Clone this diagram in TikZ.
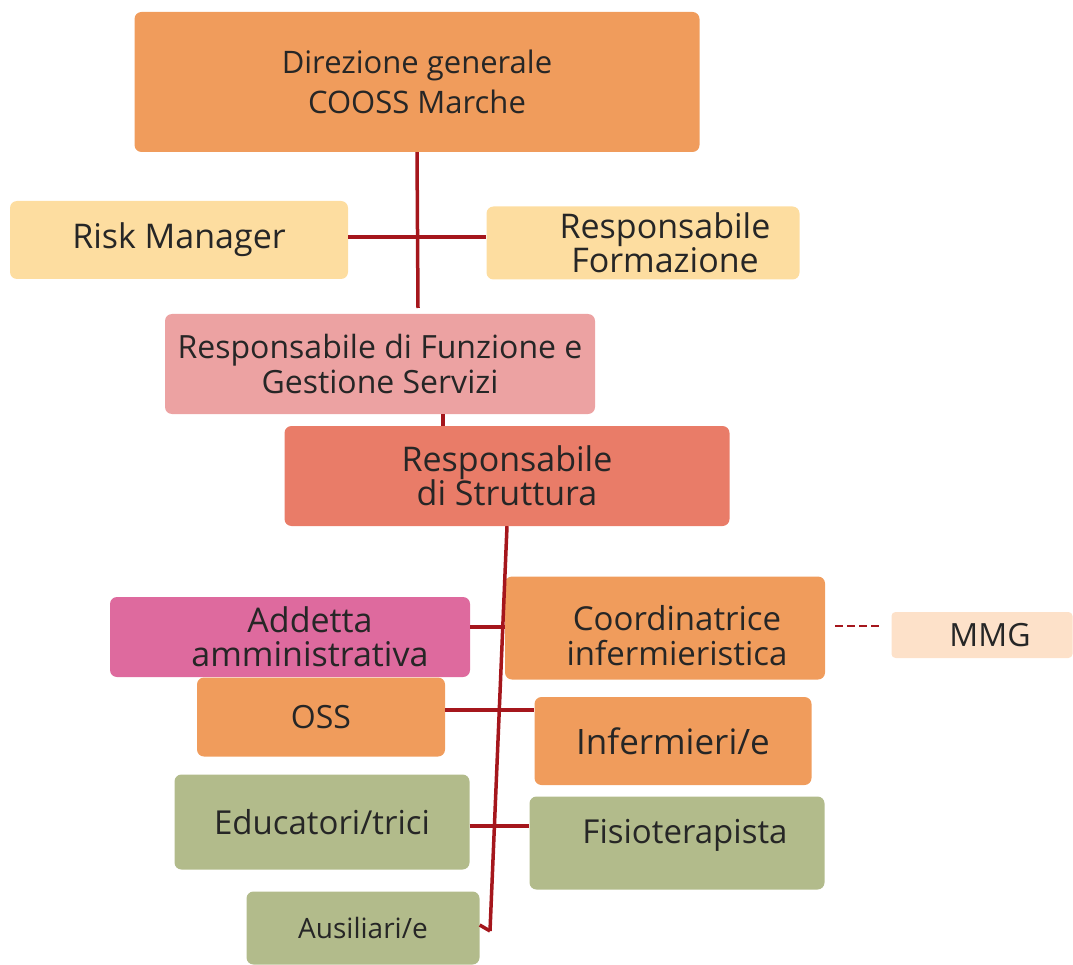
\documentclass[tikz,border=0pt]{standalone}
\usepackage{fontspec}
\setmainfont{Open Sans}
\definecolor{cOrange}{HTML}{F09C5C}
\definecolor{cYellow}{HTML}{FDDDA0}
\definecolor{cPink}{HTML}{ECA2A2}
\definecolor{cSalmon}{HTML}{E97C68}
\definecolor{cMagenta}{HTML}{DE6A9E}
\definecolor{cPeach}{HTML}{FDE1C9}
\definecolor{cGreen}{HTML}{B2BB8B}
\definecolor{cLine}{HTML}{A5161C}
\begin{document}
\begin{tikzpicture}[x=1pt,y=-1pt]
    \tikzstyle{box}=[rounded corners=7pt,inner sep=0pt,align=center,text=black!85,font=\fontsize{33}{38}\selectfont]
    \tikzstyle{orange box}=[box,fill=cOrange]
    \tikzstyle{yellow box}=[box,fill=cYellow,font=\fontsize{34}{36}\selectfont]
    \tikzstyle{green box}=[box,fill=cGreen]
    \tikzstyle{link}=[draw=cLine,line width=3.5pt]
    \useasboundingbox (0,0) rectangle (1073,965);

    % Draw the top of the chart
    \node[orange box,minimum width=565pt,minimum height=140pt,font=\fontsize{31}{40}\selectfont] (dir) at (417,82) {Direzione generale\\COOSS Marche};
    \node[yellow box,minimum width=338pt,minimum height=78pt] (risk) at (179,240) {Risk Manager};
    \node[yellow box,minimum width=313pt,minimum height=73pt,
          label={[align=center,xshift=22pt,font=\fontsize{34}{34}\selectfont,text=black!85]center:{Responsabile\\Formazione}}] (form) at (643,243) {};
    \node[box,fill=cPink,minimum width=430pt,minimum height=100pt,font=\fontsize{32}{35}\selectfont] (fun) at (380,364) {Responsabile di Funzione e\\Gestione Servizi};
    \node[box,fill=cSalmon,minimum width=445pt,minimum height=100pt,font=\fontsize{34}{34}\selectfont] (stru) at (507,476) {Responsabile\\di Struttura};

    % Draw the staff nodes
    \node[box,fill=cMagenta,minimum width=360pt,minimum height=80pt,
          label={[align=center,xshift=20pt,font=\fontsize{34}{34}\selectfont,text=black!85]center:{Addetta\\amministrativa}}] (add) at (290,637) {};
    \node[orange box,minimum width=320pt,minimum height=103pt,
          label={[align=center,xshift=12pt,yshift=-8pt,font=\fontsize{33}{35}\selectfont,text=black!85]center:{Coordinatrice\\infermieristica}}] (coord) at (665,628) {};
    \node[box,fill=cPeach,minimum width=181pt,minimum height=46pt,rounded corners=4pt,
          label={[xshift=8pt,font=\fontsize{32}{36}\selectfont,text=black!85]center:MMG}] (mmg) at (982,635) {};
    \node[orange box,minimum width=248pt,minimum height=79pt,font=\fontsize{32}{36}\selectfont] (oss) at (321,717) {OSS};
    \node[orange box,minimum width=277pt,minimum height=88pt,font=\fontsize{35}{36}\selectfont] (inf) at (673,741) {Infermieri/e};
    \node[green box,minimum width=295pt,minimum height=95pt] (edu) at (322,822) {Educatori/trici};
    \node[green box,minimum width=295pt,minimum height=93pt,
          label={[xshift=8pt,yshift=8pt,font=\fontsize{33}{36}\selectfont,text=black!85]center:Fisioterapista}] (fis) at (677,843) {};
    \node[green box,minimum width=233pt,minimum height=73pt,font=\fontsize{28}{30}\selectfont] (aus) at (363,928) {Ausiliari/e};

    % Connect the nodes
    \coordinate (top end) at (418,308);
    \coordinate (trunk end) at (490,931);
    \draw[link] (dir.south) -- (top end);
    \draw[link] ([yshift=3pt]risk.east) -- ([yshift=3pt]risk.east -| form.west);
    \draw[link] ([xshift=63pt]fun.south) -- ([xshift=63pt]fun.south |- stru.north);
    \draw[link] (stru.south) -- (trunk end);
    \draw[link] ([yshift=10pt]add.east) -- ([yshift=10pt]add.east -| coord.west);
    \draw[link] ([yshift=7pt]oss.east) -- ([yshift=7pt]oss.east -| inf.west);
    \draw[link] ([yshift=-4pt]edu.east) -- ([yshift=-4pt]edu.east -| fis.west);
    \draw[link] ([yshift=3pt]aus.east) -- (trunk end);
    \draw[link,line width=2.5pt,dash pattern=on 8pt off 4pt] ([xshift=10pt,yshift=2pt]coord.east) -- ([xshift=-10pt,yshift=2pt]coord.east -| mmg.west);
\end{tikzpicture}
\end{document}
